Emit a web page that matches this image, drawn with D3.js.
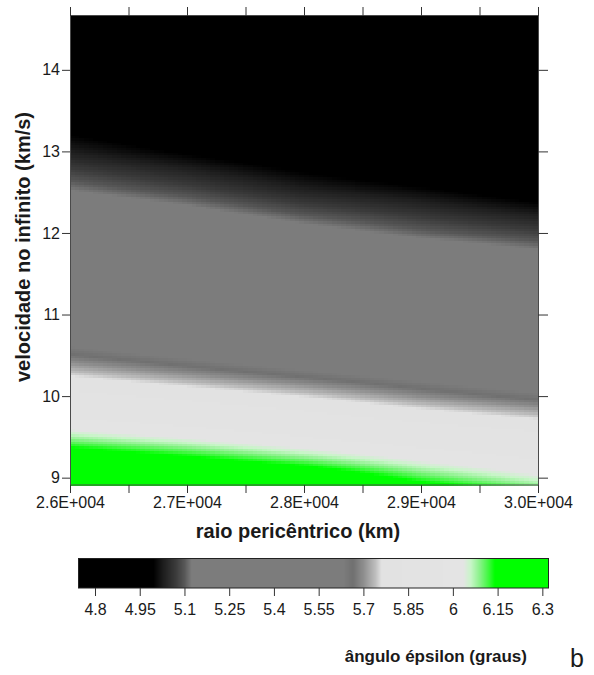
<!DOCTYPE html>
<html><head><meta charset="utf-8">
<script src="https://cdn.jsdelivr.net/npm/d3@7"></script>
<style>
body{margin:0;background:#fff}
svg{display:block}
text{font-family:"Liberation Sans",Arial,sans-serif;fill:#1a1a1a}
</style>
</head><body>
<svg id="chart" width="594" height="675"></svg>
<script>
// ---- data ----
const raio = [26000, 27000, 28000, 29000, 30000];            // km
const velocidade = [8.9, 9.0, 9.25, 9.5, 9.75, 10.0, 10.25, 10.5, 11.0, 11.5, 12.0, 12.5, 13.0, 13.5, 14.0, 14.7]; // km/s
const epsilon_r26000 = [6.39, 6.33, 6.20, 6.08, 5.96, 5.86, 5.76, 5.67, 5.51, 5.37, 5.24, 5.13, 5.03, 4.95, 4.87, 4.77];
const epsilon_r27000 = [6.34, 6.28, 6.15, 6.03, 5.91, 5.81, 5.71, 5.62, 5.46, 5.32, 5.20, 5.09, 4.99, 4.91, 4.83, 4.74];
const epsilon_r28000 = [6.27, 6.22, 6.09, 5.97, 5.86, 5.76, 5.66, 5.57, 5.41, 5.27, 5.15, 5.04, 4.95, 4.86, 4.79, 4.69];
const epsilon_r29000 = [6.17, 6.12, 6.02, 5.91, 5.80, 5.70, 5.61, 5.52, 5.37, 5.23, 5.11, 5.01, 4.91, 4.83, 4.76, 4.66];
const epsilon_r30000 = [6.09, 6.05, 5.96, 5.86, 5.75, 5.65, 5.56, 5.48, 5.33, 5.19, 5.08, 4.97, 4.88, 4.80, 4.73, 4.64];
const epsilonColumns = [epsilon_r26000, epsilon_r27000, epsilon_r28000, epsilon_r29000, epsilon_r30000];

const xTickValues = [26000, 26500, 27000, 27500, 28000, 28500, 29000, 29500, 30000];
const xTickLabels = {26000: "2.6E+004", 27000: "2.7E+004", 28000: "2.8E+004", 29000: "2.9E+004", 30000: "3.0E+004"};
const yTickValues = [9, 10, 11, 12, 13, 14];
const cbTickValues = [4.8, 4.95, 5.1, 5.25, 5.4, 5.55, 5.7, 5.85, 6, 6.15, 6.3];
const cbTickLabels = ["4.8", "4.95", "5.1", "5.25", "5.4", "5.55", "5.7", "5.85", "6", "6.15", "6.3"];

// colour map of the legend bar
const cmapStops  = [4.744, 4.996, 5.03, 5.07, 5.10, 5.124, 5.633, 5.665, 5.70, 5.74, 5.761, 6.035, 6.06, 6.09, 6.12, 6.141, 6.32];
const cmapColors = ["#000000", "#000000", "#1e1e1e", "#3a3a3a", "#575757", "#7c7c7c", "#7c7c7c", "#707070", "#8e8e8e", "#bdbdbd", "#e2e2e2", "#e4e4e4", "#c8f5c8", "#8af28a", "#3ef83e", "#00ff00", "#00ff00"];

// ---- drawing ----
const svg = d3.select("#chart");
const x = d3.scaleLinear().domain([26000, 30000]).range([70, 538]);
const y = d3.scaleLinear().domain([8.91, 14.66]).range([485, 16]);
const color = d3.scaleLinear().domain(cmapStops).range(cmapColors).clamp(true);

// value at (r, v): piecewise-linear through the read grid
const colScales = epsilonColumns.map(col => d3.scaleLinear().domain(velocidade).range(col));
function epsAt(r, v) {
  const vals = colScales.map(s => s(v));
  return d3.scaleLinear().domain(raio).range(vals)(r);
}

const dr = 40, dv = 0.03;
const cells = [];
for (let r = 26000; r < 30000 - 1e-6; r += dr) {
  for (let v = 8.91; v < 14.66 - 1e-6; v += dv) {
    cells.push({r0: r, r1: Math.min(r + dr, 30000), v0: v, v1: Math.min(v + dv, 14.66)});
  }
}
const gHeat = svg.append("g").attr("shape-rendering", "crispEdges");
gHeat.selectAll("rect").data(cells).join("rect")
  .attr("x", d => x(d.r0))
  .attr("y", d => y(d.v1))
  .attr("width", d => x(d.r1) - x(d.r0) + 0.6)
  .attr("height", d => y(d.v0) - y(d.v1) + 0.6)
  .attr("fill", d => color(epsAt((d.r0 + d.r1) / 2, (d.v0 + d.v1) / 2)));

// frame
svg.append("rect").attr("x", 70.5).attr("y", 15.5).attr("width", 468).attr("height", 469.5)
  .attr("fill", "none").attr("stroke", "#4a4a4a").attr("stroke-width", 1);

function styleAxis(g) {
  g.select(".domain").remove();
  g.selectAll(".tick line").attr("stroke", "#333");
  g.selectAll(".tick text").attr("font-size", 16).attr("fill", "#1a1a1a")
    .style("font-family", '"Liberation Sans",Arial,sans-serif');
}

svg.append("g").attr("transform", "translate(0,485)")
  .call(d3.axisBottom(x).tickValues(xTickValues).tickSize(8).tickPadding(4)
    .tickFormat(d => xTickLabels[d] || ""))
  .call(styleAxis);
svg.append("g").attr("transform", "translate(0,16)")
  .call(d3.axisTop(x).tickValues(xTickValues).tickSize(9).tickFormat(""))
  .call(styleAxis);
svg.append("g").attr("transform", "translate(70,0)")
  .call(d3.axisLeft(y).tickValues(yTickValues).tickSize(8).tickPadding(2).tickFormat(d3.format("d")))
  .call(styleAxis);
svg.append("g").attr("transform", "translate(538,0)")
  .call(d3.axisRight(y).tickValues(yTickValues).tickSize(10).tickFormat(""))
  .call(styleAxis);

// axis titles
svg.append("text").attr("x", 298).attr("y", 538).attr("text-anchor", "middle")
  .attr("font-size", 20).attr("font-weight", "bold").text("raio pericêntrico (km)");
svg.append("text").attr("transform", "translate(30,247) rotate(-90)").attr("text-anchor", "middle")
  .attr("font-size", 20).attr("font-weight", "bold").text("velocidade no infinito (km/s)");

// colour bar
const cbx = d3.scaleLinear().domain([4.744, 6.32]).range([78.3, 548.3]);
const cbPixels = d3.range(Math.floor(cbx.range()[0]), Math.ceil(cbx.range()[1]));
svg.append("g").attr("shape-rendering", "crispEdges")
  .selectAll("rect").data(cbPixels).join("rect")
  .attr("x", d => d).attr("y", 559).attr("width", 1.2).attr("height", 29)
  .attr("fill", d => color(cbx.invert(d + 0.5)));
svg.append("rect").attr("x", 78.5).attr("y", 558.5).attr("width", 470).attr("height", 29.5)
  .attr("fill", "none").attr("stroke", "#222").attr("stroke-width", 1);
svg.append("g").attr("transform", "translate(0,588)")
  .call(d3.axisBottom(cbx).tickValues(cbTickValues).tickSize(8).tickPadding(8)
    .tickFormat((d, i) => cbTickLabels[i]))
  .call(styleAxis);

svg.append("text").attr("x", 527).attr("y", 662).attr("text-anchor", "end")
  .attr("font-size", 17).attr("font-weight", "bold").text("ângulo épsilon (graus)");
svg.append("text").attr("x", 570).attr("y", 667).attr("font-size", 25).text("b");
</script>
</body></html>
